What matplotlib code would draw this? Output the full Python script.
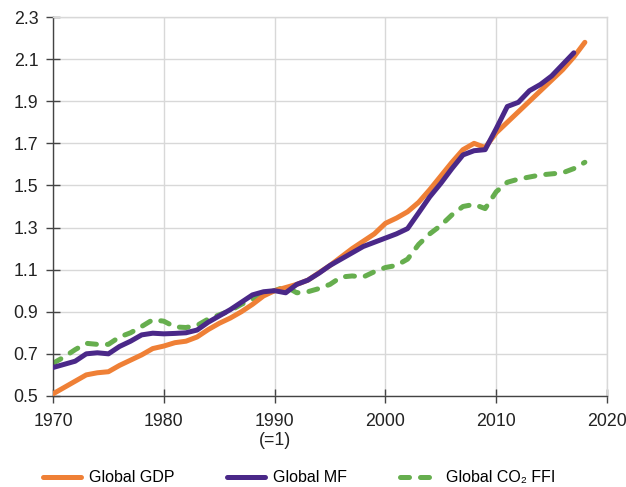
"""Global GDP, material footprint (MF) and CO2 from fossil fuels, indexed to 1990 = 1."""
import matplotlib
matplotlib.use('Agg')
import matplotlib.pyplot as plt

plt.rcParams['font.family'] = ['Liberation Sans', 'DejaVu Sans']

# 数据（1990 = 1）
years_gdp = list(range(1970, 2019))
gdp = [0.51, 0.54, 0.57, 0.60, 0.61, 0.615, 0.645, 0.67, 0.695, 0.725,
       0.737, 0.753, 0.76, 0.78, 0.815, 0.845, 0.87, 0.90, 0.935, 0.975,
       1.0, 1.015, 1.03, 1.05, 1.085, 1.12, 1.16, 1.20, 1.235, 1.27,
       1.32, 1.345, 1.375, 1.42, 1.48, 1.545, 1.61, 1.67, 1.70, 1.68,
       1.75, 1.80, 1.85, 1.90, 1.95, 2.00, 2.05, 2.11, 2.18]

years_mf = list(range(1970, 2018))
mf = [0.635, 0.65, 0.665, 0.70, 0.705, 0.70, 0.735, 0.76, 0.79, 0.798,
      0.795, 0.797, 0.80, 0.813, 0.85, 0.88, 0.91, 0.945, 0.98, 0.995,
      1.0, 0.99, 1.03, 1.05, 1.083, 1.12, 1.15, 1.18, 1.21, 1.23,
      1.25, 1.27, 1.295, 1.37, 1.446, 1.51, 1.58, 1.645, 1.665, 1.67,
      1.77, 1.875, 1.895, 1.95, 1.98, 2.02, 2.075, 2.13]

years_co2 = list(range(1970, 2019))
co2 = [0.655, 0.685, 0.72, 0.75, 0.745, 0.745, 0.78, 0.80, 0.83, 0.862,
       0.855, 0.828, 0.825, 0.835, 0.865, 0.885, 0.905, 0.935, 0.96, 0.985,
       1.0, 1.02, 0.99, 0.995, 1.01, 1.03, 1.065, 1.07, 1.065, 1.09,
       1.11, 1.12, 1.15, 1.22, 1.27, 1.31, 1.36, 1.40, 1.41, 1.39,
       1.47, 1.515, 1.53, 1.54, 1.55, 1.555, 1.56, 1.58, 1.61]

x_ticks = [1970, 1980, 1990, 2000, 2010, 2020]
x_tick_labels = ['1970', '1980', '1990\n(=1)', '2000', '2010', '2020']
y_ticks = [0.5, 0.7, 0.9, 1.1, 1.3, 1.5, 1.7, 1.9, 2.1, 2.3]

fig = plt.figure(figsize=(6.26, 4.87), dpi=100)
ax = fig.add_axes([0.0847, 0.187, 0.885, 0.778])

ax.plot(years_gdp, gdp, color='#EF8036', lw=3.6, solid_capstyle='round',
        solid_joinstyle='round', label='Global GDP', zorder=3)
ax.plot(years_mf, mf, color='#4A2888', lw=3.6, solid_capstyle='round',
        solid_joinstyle='round', label='Global MF', zorder=4)
ax.plot(years_co2, co2, color='#66AE4E', lw=3.6, ls=(0, (1.8, 2.2)),
        dash_capstyle='round', label='Global CO\u2082 FFI', zorder=2)

ax.set_xlim(1970, 2020)
ax.set_ylim(0.5, 2.3)
ax.set_xticks(x_ticks)
ax.set_xticklabels(x_tick_labels)
ax.set_yticks(y_ticks)
ax.set_yticklabels([f'{v:.1f}' for v in y_ticks])
ax.tick_params(direction='inout', length=10, width=1, color='#444444',
               labelsize=12.8, labelcolor='#222222')
ax.tick_params(axis='x', pad=7)
ax.tick_params(axis='y', pad=5.5)

ax.grid(True, color='#d8d8d8', lw=1)
ax.set_axisbelow(True)
for side in ['left', 'bottom']:
    ax.spines[side].set_color('#444444')
    ax.spines[side].set_linewidth(1)
for side in ['top', 'right']:
    ax.spines[side].set_color('#d8d8d8')
    ax.spines[side].set_linewidth(1)

fig.legend(loc='center', bbox_to_anchor=(0.478, 0.0185), ncol=3, frameon=False,
           fontsize=11.5, handlelength=2.4, columnspacing=3.3, handletextpad=0.5)

plt.savefig('out.png', dpi=100)
